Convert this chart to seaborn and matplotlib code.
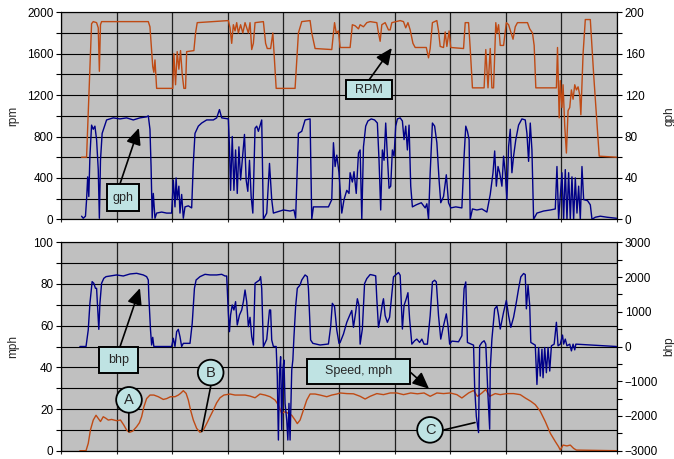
import matplotlib
matplotlib.use("Agg")
import matplotlib.pyplot as plt
from matplotlib.patches import Rectangle
from matplotlib.ticker import MultipleLocator, NullFormatter
import seaborn as sns
import pandas as pd

sns.set_style("ticks")
plt.rcParams["font.family"] = ["Liberation Sans", "DejaVu Sans"]

# ---------------- engine log (time in s) ----------------
rpm_time = [37, 46, 55, 58, 64, 67, 69, 71, 73, 157, 160, 165, 167, 169, 172, 201, 203, 206,
            209, 212, 215, 218, 221, 224, 226, 239, 242, 245, 301, 304, 307, 310, 313, 316,
            319, 323, 327, 331, 337, 340, 343, 346, 349, 364, 368, 371, 377, 381, 387, 421,
            427, 433, 448, 451, 457, 487, 492, 495, 499, 502, 520, 524, 529, 535, 538, 544,
            550, 556, 568, 571, 574, 577, 583, 589, 592, 595, 610, 616, 620, 624, 628, 633,
            637, 657, 661, 664, 668, 676, 679, 682, 688, 691, 694, 698, 701, 724, 727, 733,
            736, 740, 761, 764, 768, 772, 775, 778, 782, 784, 787, 790, 796, 801, 805, 809,
            813, 817, 821, 839, 843, 848, 851, 854, 891, 893, 896, 898, 901, 903, 906, 909,
            912, 915, 918, 921, 924, 927, 930, 933, 935, 939, 943, 952, 958, 968, 999]
rpm_value = [600, 600, 1890, 1910, 1900, 1850, 1430, 1880, 1910, 1910, 1860, 1475, 1420, 1540,
             1265, 1265, 1600, 1300, 1620, 1450, 1630, 1400, 1265, 1265, 1620, 1630, 1800, 1900,
             1920, 1850, 1700, 1880, 1820, 1900, 1800, 1880, 1800, 1900, 1800, 1900, 1640, 1700,
             1900, 1910, 1700, 1650, 1650, 1800, 1265, 1265, 1800, 1910, 1920, 1800, 1650, 1640,
             1900, 1800, 1820, 1660, 1660, 1880, 1870, 1840, 1880, 1860, 1900, 1910, 1900, 1800,
             1720, 1880, 1900, 1830, 1830, 1900, 1920, 1910, 1850, 1900, 1830, 1700, 1660, 1660,
             1560, 1650, 1900, 1920, 1820, 1670, 1660, 1810, 1670, 1820, 1660, 1650, 1900, 1900,
             1650, 1270, 1270, 1640, 1270, 1650, 1270, 1270, 1900, 1800, 1880, 1680, 1680, 1900,
             1880, 1810, 1740, 1860, 1900, 1900, 1840, 1800, 1680, 1270, 1270, 1660, 980, 1340,
             1080, 1300, 900, 640, 1050, 1080, 1250, 1160, 1300, 1250, 1280, 1200, 1010, 1600,
             1930, 1930, 1400, 610, 600]

gph_time = [37, 40, 44, 46, 48, 50, 52, 55, 58, 61, 64, 67, 69, 71, 74, 79, 82, 94, 106, 118,
            130, 142, 154, 157, 160, 162, 164, 166, 169, 172, 181, 190, 199, 202, 205, 207, 209,
            212, 214, 217, 220, 223, 229, 235, 238, 241, 247, 253, 262, 274, 280, 285, 289, 301,
            303, 305, 308, 311, 314, 317, 320, 323, 326, 330, 333, 336, 339, 342, 345, 349, 352,
            355, 361, 364, 370, 375, 379, 382, 388, 400, 412, 419, 422, 427, 433, 439, 448, 451,
            454, 466, 481, 487, 490, 493, 496, 500, 505, 509, 514, 518, 520, 524, 527, 531, 535,
            538, 541, 544, 548, 552, 558, 564, 569, 572, 575, 578, 581, 584, 587, 590, 593, 596,
            599, 602, 605, 610, 614, 617, 620, 623, 626, 629, 632, 639, 648, 655, 658, 661, 664,
            668, 672, 676, 680, 683, 688, 693, 697, 701, 710, 721, 725, 728, 731, 734, 736, 740,
            748, 757, 766, 772, 777, 780, 783, 786, 789, 793, 796, 799, 802, 805, 808, 811, 814,
            818, 823, 829, 835, 838, 841, 844, 847, 850, 856, 868, 880, 889, 892, 895, 898, 901,
            904, 907, 910, 913, 916, 919, 922, 925, 928, 931, 934, 937, 940, 947, 952, 955, 961,
            970, 982, 999]
gph_value = [3, 1, 3, 19, 41, 22, 61, 91, 87, 90, 77, 48, 1, 57, 83, 91, 96, 98, 97, 98,
             96, 98, 99, 100, 87, 51, 1, 25, 1, 6, 7, 6, 6, 38, 12, 40, 19,
             32, 6, 24, 1, 12, 13, 11, 54, 83, 90, 93, 96, 96, 98, 106, 98, 97,
             70, 28, 80, 28, 67, 25, 70, 38, 57, 82, 38, 27, 57, 22, 6, 88, 90,
             85, 96, 0, 6, 54, 19, 6, 7, 9, 8, 9, 1, 83, 85, 96, 97, 0,
             12, 12, 12, 19, 74, 51, 62, 45, 6, 19, 28, 25, 45, 36, 46, 25, 64,
             67, 0, 70, 90, 95, 97, 96, 93, 57, 9, 67, 57, 93, 61, 30, 32, 67,
             61, 90, 97, 98, 95, 77, 90, 67, 91, 32, 12, 14, 16, 11, 15, 0, 45,
             93, 90, 74, 38, 16, 22, 43, 16, 11, 12, 11, 61, 90, 85, 77, 0, 10,
             9, 10, 7, 24, 45, 66, 32, 51, 45, 32, 61, 45, 19, 70, 87, 45, 61,
             77, 91, 97, 96, 83, 56, 93, 67, 0, 6, 8, 9, 10, 51, 0, 22, 45,
             0, 48, 0, 45, 0, 41, 0, 40, 6, 32, 0, 51, 19, 18, 14, 0, 2,
             3, 2, 1]

# ---------------- vehicle log ----------------
speed_time = [34, 45, 49, 53, 58, 63, 67, 71, 76, 81, 85, 91, 100, 107, 113, 118, 123, 129, 136,
              141, 145, 149, 154, 160, 167, 175, 184, 190, 197, 205, 211, 215, 220, 225, 229,
              233, 238, 244, 250, 256, 262, 268, 274, 280, 286, 293, 304, 313, 322, 331, 340,
              349, 358, 367, 376, 385, 391, 397, 403, 409, 415, 421, 425, 430, 436, 442, 448,
              457, 466, 478, 487, 496, 502, 514, 526, 538, 547, 556, 568, 580, 592, 604, 616,
              629, 641, 653, 664, 676, 688, 700, 712, 721, 733, 742, 749, 757, 764, 771, 781,
              790, 802, 814, 826, 835, 845, 853, 862, 871, 880, 889, 895, 898, 903, 910, 916,
              922, 927, 999]
speed_value = [0, 0, 3.5, 10, 14.7, 17, 15.5, 14, 16.3, 15.5, 14.7, 15, 14.4, 14.7, 12.3, 9.9,
               8.8, 9.4, 11.5, 13.4, 16.3, 21, 25, 26.7, 26.7, 25.9, 24.6, 25, 25.9, 25.9, 26.7,
               27.5, 28.8, 27.5, 24.3, 19.5, 14.7, 10.7, 8.8, 9.9, 13, 16.3, 19.5, 23, 25.4,
               26.7, 27.2, 26.7, 26.7, 26.7, 26.2, 25.4, 27.2, 26.7, 25.9, 24.3, 21.9, 17.9,
               18.7, 17.9, 17, 14.7, 13, 14.7, 19.5, 24.3, 27.2, 27.2, 26.7, 25.9, 26.7, 27.2,
               27.7, 27.4, 27.3, 26.1, 24.8, 26.1, 27.4, 26.9, 27.7, 27.7, 26.9, 27.7, 27.3,
               27.7, 26.1, 27.7, 27.4, 27.7, 26.9, 25.3, 27.7, 28.9, 26.1, 27.7, 29.4, 26.1,
               27.4, 26.9, 27.4, 27.4, 26.9, 25.3, 23.7, 22.1, 18.9, 14, 8.4, 4.4, 1.9, 0.3,
               2.7, 2.3, 2.7, 1.1, 0.3, 0]

bhp_time = [34, 45, 49, 52, 56, 59, 62, 64, 67, 68, 70, 73, 77, 81, 88, 100, 112, 124, 136, 148,
            154, 157, 158, 161, 163, 165, 167, 190, 199, 202, 205, 208, 211, 214, 217, 220, 232,
            236, 240, 243, 250, 259, 268, 280, 289, 295, 298, 301, 303, 305, 308, 311, 314, 317,
            321, 325, 328, 331, 334, 337, 340, 343, 346, 349, 353, 357, 359, 361, 364, 370, 375,
            377, 379, 382, 387, 389, 391, 393, 395, 397, 399, 401, 403, 406, 408, 410, 412, 415,
            417, 419, 422, 425, 430, 433, 439, 443, 445, 449, 453, 466, 481, 485, 488, 492, 496,
            500, 502, 508, 514, 519, 523, 526, 530, 533, 536, 538, 542, 546, 550, 556, 562, 566,
            568, 571, 574, 578, 580, 583, 587, 591, 595, 598, 603, 607, 610, 614, 617, 621, 624,
            627, 631, 636, 640, 645, 649, 653, 659, 664, 668, 672, 675, 679, 683, 688, 693, 696,
            699, 703, 715, 721, 725, 728, 731, 742, 744, 747, 751, 753, 757, 761, 764, 768, 771,
            772, 775, 780, 784, 787, 790, 796, 801, 805, 809, 814, 819, 823, 827, 832, 835, 837,
            840, 843, 845, 853, 856, 859, 862, 865, 867, 870, 873, 876, 879, 882, 887, 891, 894,
            898, 902, 904, 907, 910, 915, 918, 921, 924, 926, 999]
bhp_value = [0, 0, 475, 1243, 1867, 1820, 1675, 1675, 763, 494, 1243, 1820, 1963, 2011, 2030,
             2060, 2030, 2088, 2107, 2060, 2011, 1915, 1435, 475, 43, 264, 0, 0, 0, 235, 0, 427,
             494, 283, 0, 91, 91, 667, 1675, 1915, 2011, 2078, 2060, 2060, 2078, 2030, 2030, 955,
             427, 907, 1195, 1051, 1291, 619, 907, 1051, 1291, 1627, 1291, 571, 840, 283, 43,
             1820, 1867, 1915, 2011, 1675, -5, 206, 1051, 1051, 187, 0, 0, -869, -2693, -773,
             -293, -2405, -677, -389, -1637, -2117, -2693, -1637, -2693, -677, -389, 283, 1147,
             1675, 1771, 1915, 2060, 2011, 1675, 187, 91, 43, 72, 571, 1243, 1147, 475, 91, 116,
             358, 697, 890, 1036, 552, 987, 1375, 1181, 68, 503, 1810, 1955, 2072, 2052, 2033,
             1375, 552, 794, 1230, 1375, 890, 697, 842, 1520, 2004, 2072, 2130, 2052, 503, 1181,
             1375, 1549, 794, 68, 165, 213, 116, 213, 68, 68, 890, 1859, 1907, 1859, 890, 213,
             600, 939, 600, 68, 155, 136, 310, 1665, 1859, 116, 39, -1181, -2013, -2478, 19, 116,
             165, 68, -1433, -2381, -658, 213, 1084, 1162, 890, 503, 987, 1326, 890, 552, 842,
             1278, 1665, 2004, 2101, 2072, 1084, 1762, 1181, 116, 39, -1094, -29, -852, -77,
             -900, -29, -755, -29, -707, 19, 68, 697, 19, 68, 329, 68, 213, 19, 68, -126, 68, -97,
             68, 0]

engine = pd.DataFrame({"t": rpm_time, "rpm": rpm_value})
fuel = pd.DataFrame({"t": gph_time, "gph": gph_value})
vehicle = pd.DataFrame({"t": speed_time, "mph": speed_value})
power = pd.DataFrame({"t": bhp_time, "bhp": bhp_value})

ORANGE = "#bf4a14"
NAVY = "#000088"
PANEL = "#c0c0c0"
NOTE = "#bfe3e3"
FS = 8.5

W, H = 674, 459
fig = plt.figure(figsize=(W / 100, H / 100), dpi=100)


def frame(left, top, right, bottom):
    return [left / W, 1 - bottom / H, (right - left) / W, (bottom - top) / H]


ax_top = fig.add_axes(frame(61, 12.3, 617, 219.3))
ax_bot = fig.add_axes(frame(61, 242.3, 617, 450.7))
ax_top2 = ax_top.twinx()
ax_bot2 = ax_bot.twinx()

line_kw = dict(estimator=None, sort=False, linewidth=1.0, legend=False)
sns.lineplot(data=engine, x="t", y="rpm", ax=ax_top, color=ORANGE, **line_kw)
sns.lineplot(data=fuel, x="t", y="gph", ax=ax_top2, color=NAVY, **line_kw)
sns.lineplot(data=vehicle, x="t", y="mph", ax=ax_bot, color=ORANGE, **line_kw)
sns.lineplot(data=power, x="t", y="bhp", ax=ax_bot2, color=NAVY, **line_kw)


def style(ax, ax2, lo, hi, major, minor, lo2, hi2, major2, minor2, left_label, right_label):
    ax.set_facecolor(PANEL)
    ax.set_axisbelow(True)
    ax.set_xlim(0, 1000)
    ax.xaxis.set_major_locator(MultipleLocator(100))
    ax.xaxis.set_major_formatter(NullFormatter())
    ax.set_ylim(lo, hi)
    ax.yaxis.set_major_locator(MultipleLocator(major))
    ax.yaxis.set_minor_locator(MultipleLocator(minor))
    ax2.set_ylim(lo2, hi2)
    ax2.yaxis.set_major_locator(MultipleLocator(major2))
    ax2.yaxis.set_minor_locator(MultipleLocator(minor2))
    ax.grid(axis="y", which="both", color="black", linewidth=0.8)
    ax.grid(axis="x", which="major", color="#202020", linewidth=0.9)
    for a in (ax, ax2):
        a.tick_params(axis="y", which="both", direction="out", length=3.5, width=0.8,
                      labelsize=FS, pad=2, colors="black")
        a.tick_params(axis="x", which="both", direction="out", length=2.5, width=0.8)
        for s in a.spines.values():
            s.set_color("black")
            s.set_linewidth(0.8)
        a.set_xlabel("")
    ax.set_ylabel(left_label, fontsize=FS)
    ax2.set_ylabel(right_label, fontsize=FS, rotation=90)
    ax.yaxis.set_label_coords(-0.075, 0.5)
    ax2.yaxis.set_label_coords(1.083, 0.5)


style(ax_top, ax_top2, 0, 2000, 400, 200, 0, 200, 40, 20, "rpm", "gph")
style(ax_bot, ax_bot2, 0, 100, 20, 10, -3000, 3000, 1000, 500, "mph", "bhp")
ax_top2.yaxis.set_label_position("right")
ax_bot2.yaxis.set_label_position("right")


def callout(host, top_ax, box, label, start, tip, size=9):
    x0, y0, x1, y1 = box
    top_ax.add_patch(Rectangle((x0, y0), x1 - x0, y1 - y0, transform=host.transData,
                               facecolor=NOTE, edgecolor="black", linewidth=1.4, zorder=8))
    top_ax.text((x0 + x1) / 2, (y0 + y1) / 2, label, transform=host.transData,
                ha="center", va="center", fontsize=size, zorder=9)
    top_ax.annotate("", xy=tip, xytext=start, xycoords=host.transData,
                    textcoords=host.transData, zorder=7,
                    arrowprops=dict(arrowstyle="-|>,head_length=1.0,head_width=0.45",
                                    color="black", lw=1.2, mutation_scale=10,
                                    shrinkA=0, shrinkB=0))


def marker(host, top_ax, centre, letter, start, end):
    top_ax.annotate("", xy=end, xytext=start, xycoords=host.transData,
                    textcoords=host.transData, zorder=7,
                    arrowprops=dict(arrowstyle="-", color="black", lw=1.2,
                                    shrinkA=0, shrinkB=0))
    top_ax.text(centre[0], centre[1], letter, transform=host.transData, ha="center",
                va="center", fontsize=10.5, zorder=9,
                bbox=dict(boxstyle="circle,pad=0.4", facecolor=NOTE, edgecolor="black",
                          linewidth=1.3))


callout(ax_top, ax_top2, (82.7, 80, 140.3, 341), "gph", (106, 341), (140, 882))
callout(ax_top, ax_top2, (512.6, 1162, 595.3, 1346), "RPM", (554, 1346), (595, 1655))
callout(ax_bot, ax_bot2, (68.3, 37.3, 138.5, 49.8), "bhp", (106, 49.8), (142, 78))
callout(ax_bot, ax_bot2, (442.5, 32.1, 627.7, 44.0), "Speed, mph", (627.7, 37.8), (662, 29.7))

marker(ax_bot, ax_bot2, (122.3, 24.4), "A", (122, 18.3), (122, 9.2))
marker(ax_bot, ax_bot2, (269.2, 37.5), "B", (269.2, 30.8), (253.1, 9.2))
marker(ax_bot, ax_bot2, (663.7, 10.0), "C", (688.9, 10.0), (744.6, 13.5))

fig.savefig("out.png", dpi=100, facecolor="white")
